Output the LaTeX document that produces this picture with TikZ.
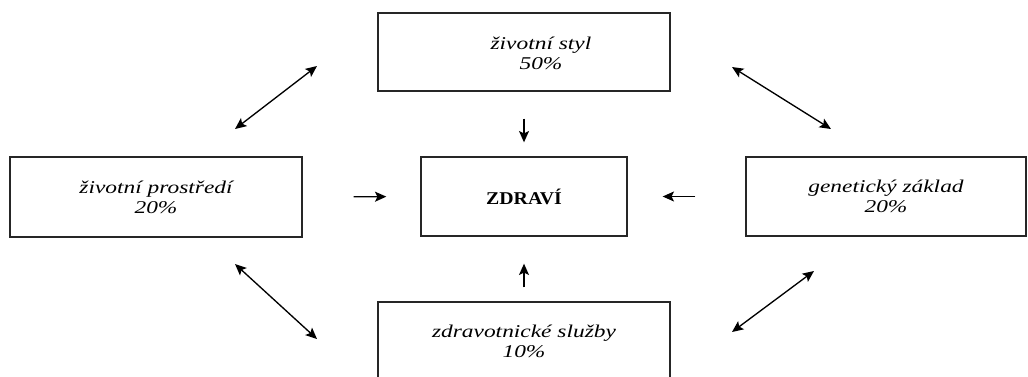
\documentclass[tikz,border=0pt]{standalone}
\usepackage{fontspec}
\setmainfont{Liberation Serif}
\newfontfamily\labelfont{Liberation Serif}[FakeStretch=1.3]
\newfontfamily\headfont{Liberation Serif}[FakeStretch=1.1]
\usetikzlibrary{arrows.meta}
\begin{document}
\begin{tikzpicture}[x=0.75pt, y=-0.75pt,
  box/.style={draw=black!85, line width=1pt, rectangle, inner sep=0pt,
    align=center, font=\labelfont\itshape\fontsize{13.5}{15}\selectfont},
  factor/.style={box, minimum width=219pt, minimum height=59pt},
  plain/.style={align=center, inner sep=0pt,
    font=\labelfont\itshape\fontsize{13.5}{15}\selectfont},
  tip/.style={Stealth[length=8.5pt, width=7.5pt, inset=1.8pt]},
  arr/.style={-{Stealth[length=8.5pt, width=7.5pt, inset=1.8pt]}, line width=1pt},
  dbl/.style={{Stealth[length=8.5pt, width=7.5pt, inset=1.8pt]}-{Stealth[length=8.5pt, width=7.5pt, inset=1.8pt]}, line width=1pt}]
\useasboundingbox (0,0) rectangle (1028,376);
\clip (0,0) rectangle (1028,376);

% factor boxes
\node[factor, minimum height=58.5pt] (styl) at (524,52) {};
\node[plain] (stylText) at (541,53) {životní styl\\50\%};
\node[factor, minimum height=60pt] (prostredi) at (156,197) {životní prostředí\\20\%};
\node[factor, minimum width=210pt, minimum height=59.25pt] (zaklad) at (886,196.5) {genetický základ\\20\%};
\node[factor, minimum height=59.25pt] (sluzby) at (524,341.5) {zdravotnické služby\\10\%};

% central box
\node[box, minimum width=154.5pt, minimum height=59.25pt,
  font=\headfont\bfseries\fontsize{13.5}{15}\selectfont] (zdravi) at (524,196.5) {ZDRAVÍ};

% influences on health
\draw[arr, shorten <=20.25pt, shorten >=10.5pt] (styl.south) -- (zdravi.north);
\draw[arr, shorten <=10.5pt, shorten >=20.25pt] (sluzby.north) -- (zdravi.south);
\draw[arr, shorten <=38.25pt, shorten >=25.5pt] (prostredi.east) -- (zdravi.west);
\draw[arr, shorten <=37.5pt, shorten >=26.25pt] (zaklad.west) -- (zdravi.east);

% mutual links between factors
\coordinate (tlA) at (235,129);
\coordinate (tlB) at (317,66);
\coordinate (trA) at (732,67);
\coordinate (trB) at (831,129);
\coordinate (blA) at (235,264);
\coordinate (blB) at (317,339);
\coordinate (brA) at (732,332);
\coordinate (brB) at (814,271);
\draw[dbl] (tlA) -- (tlB);
\draw[dbl] (trA) -- (trB);
\draw[dbl] (blA) -- (blB);
\draw[dbl] (brA) -- (brB);
\end{tikzpicture}
\end{document}
